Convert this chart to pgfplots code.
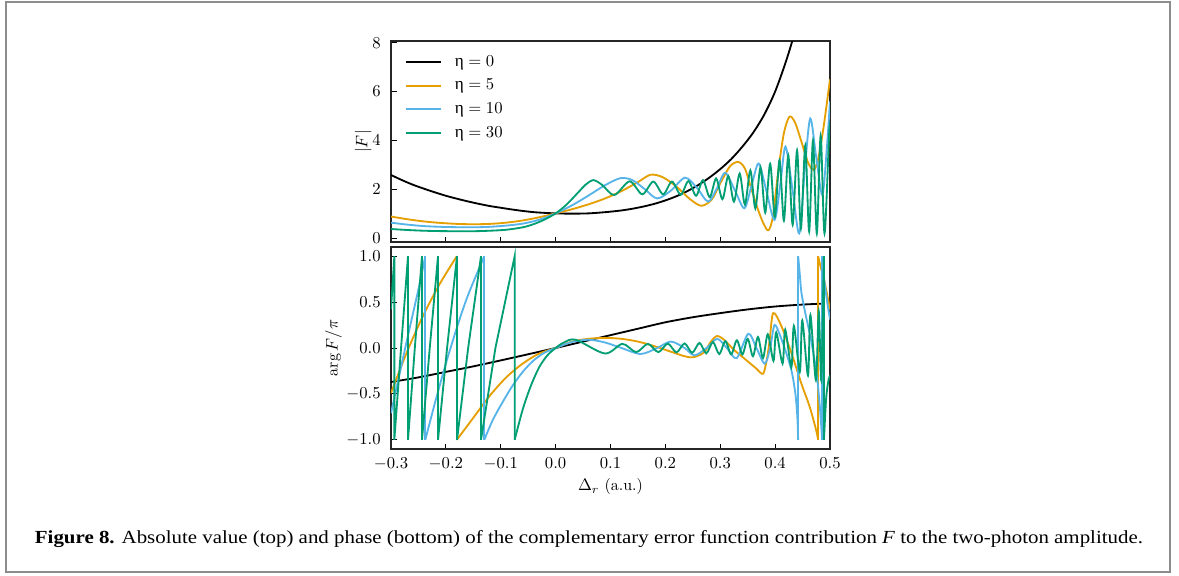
\documentclass[border=0pt]{standalone}
\usepackage{pgfplots}
\pgfplotsset{compat=1.18}
\usepackage{fontspec}
\newfontfamily\capfont{Liberation Serif}
\newfontfamily\grk{Liberation Serif}
\definecolor{myorange}{HTML}{E69F00}
\definecolor{myblue}{HTML}{56B4E9}
\definecolor{mygreen}{HTML}{009E73}
\definecolor{framegray}{HTML}{8C8C8C}
\newcommand{\tkfont}{\fontsize{9.6}{11}\selectfont}
\newcommand{\lgfont}{\fontsize{10.3}{12}\selectfont}
\pgfplotsset{
  myax/.style={
    scale only axis, width=263.4pt,
    xmin=-0.3, xmax=0.5,
    axis line style={line width=0.7pt, black!85},
    tick style={line width=0.6pt, black},
    tick align=inside, major tick length=3.3pt,
    tick pos=left,
    scaled ticks=false,
    xtick={-0.3,-0.2,-0.1,0,0.1,0.2,0.3,0.4,0.5},
    ticklabel style={font=\tkfont},
    label style={font=\tkfont},
    yticklabel style={xshift=-2.7pt},
    xticklabel style={yshift=-2.0pt},
    every axis plot/.append style={line width=1.1pt},
  }
}
\begin{document}
\begin{tikzpicture}
\useasboundingbox (0pt,0pt) rectangle (707.4pt,-345.6pt);
\fill[white] (0pt,0pt) rectangle (707.4pt,-345.6pt);
\begin{scope}[x=0.6pt,y=-0.6pt]
\draw[framegray, line width=1.2pt] (6,1.5) rectangle (1170,572);
\node[inner sep=0pt, anchor=base] at (589,543) {\resizebox{664.8pt}{7.8pt}{\capfont\textbf{Figure 8.} Absolute value (top) and phase (bottom) of the complementary error function contribution \textit{F} to the two-photon amplitude.}};
\end{scope}

% ---------------- top panel ----------------
\begin{axis}[myax,
  at={(234.6pt,-145.2pt)}, anchor=south west,
  height=120.6pt,
  ymin=-0.151, ymax=8.07,
  ytick={0,2,4,6,8},
  xticklabels={},
  ylabel={$|F|$},
  ylabel shift=-6.4pt,
  legend style={at={(0.0319,0.935)}, anchor=north west, draw=none, fill=none,
    font=\lgfont, row sep=5.2pt, inner sep=0pt,
    nodes={inner sep=0pt, text height=7pt, text depth=2pt},
    /tikz/every odd column/.append style={column sep=7.4pt}},
  legend cell align=left,
  legend image code/.code={\draw[#1] (0pt,0pt) -- (21pt,0pt);},
]
\addlegendimage{black, line width=1.25pt}
\addlegendentry{{\grk η}${}=0$}
\addlegendimage{myorange, line width=1.25pt}
\addlegendentry{{\grk η}${}=5$}
\addlegendimage{myblue, line width=1.25pt}
\addlegendentry{{\grk η}${}=10$}
\addlegendimage{mygreen, line width=1.25pt}
\addlegendentry{{\grk η}${}=30$}
\addplot[black, smooth, forget plot] coordinates {
(-0.30,2.59) (-0.28,2.38) (-0.26,2.19) (-0.24,2.03) (-0.22,1.88) (-0.20,1.74) (-0.18,1.62) (-0.16,1.51) (-0.14,1.41) (-0.12,1.32) (-0.10,1.25) (-0.08,1.18) (-0.06,1.12) (-0.04,1.07) (-0.02,1.04) (0.00,1.02) (0.02,1.01) (0.04,1.01) (0.06,1.02) (0.08,1.05) (0.10,1.09) (0.12,1.14) (0.14,1.21) (0.16,1.30) (0.18,1.41) (0.20,1.55) (0.22,1.72) (0.24,1.93) (0.26,2.18) (0.28,2.48) (0.30,2.83) (0.32,3.24) (0.34,3.74) (0.36,4.32) (0.38,5.05) (0.40,6.0) (0.42,7.25) (0.437,8.5)};
\addplot[myorange, smooth, forget plot] coordinates {
(-0.30,0.89) (-0.27,0.78) (-0.24,0.69) (-0.21,0.63) (-0.18,0.59) (-0.15,0.575) (-0.12,0.59) (-0.09,0.64) (-0.06,0.73) (-0.03,0.86) (0.00,1.02) (0.03,1.19) (0.06,1.39) (0.09,1.63) (0.12,1.93) (0.15,2.3) (0.173,2.6) (0.195,2.5) (0.22,2.12) (0.245,1.6) (0.266,1.33) (0.285,1.6) (0.30,2.25) (0.318,2.95) (0.333,3.12) (0.345,2.85) (0.357,2.0) (0.37,1.1) (0.38,0.55) (0.388,0.33) (0.396,0.9) (0.406,2.8) (0.416,4.3) (0.426,4.97) (0.436,4.75) (0.448,3.95) (0.46,3.1) (0.47,2.8) (0.478,3.2) (0.488,4.5) (0.5,6.5)};
\addplot[myblue, smooth, forget plot] coordinates {
(-0.30,0.64) (-0.27,0.56) (-0.24,0.5) (-0.21,0.47) (-0.18,0.455) (-0.15,0.45) (-0.12,0.47) (-0.09,0.52) (-0.06,0.6) (-0.03,0.76) (0.00,1.02) (0.03,1.35) (0.06,1.75) (0.09,2.17) (0.118,2.46) (0.14,2.38) (0.163,2.0) (0.185,1.63) (0.21,1.95) (0.236,2.48) (0.258,2.05) (0.278,1.5) (0.294,2.05) (0.309,2.68) (0.327,1.95) (0.344,1.23) (0.357,2.15) (0.37,3.06) (0.384,1.95) (0.399,0.75) (0.41,2.3) (0.419,3.75) (0.432,1.95) (0.444,0.2) (0.454,2.8) (0.464,4.9) (0.475,3.3) (0.486,1.77) (0.494,3.6) (0.5,5.6)};
\addplot[mygreen, smooth, forget plot] coordinates {
(-0.30,0.38) (-0.27,0.34) (-0.24,0.31) (-0.21,0.295) (-0.18,0.29) (-0.15,0.29) (-0.12,0.31) (-0.09,0.35) (-0.06,0.45) (-0.04,0.58) (-0.02,0.77) (0.00,1.02) (0.02,1.38) (0.04,1.85) (0.055,2.2) (0.069,2.38) (0.085,2.18) (0.107,1.77)
(0.135,2.33) (0.158,1.80) (0.178,2.32) (0.196,1.80) (0.212,2.32) (0.228,1.78) (0.242,2.34) (0.256,1.74) (0.2685,2.38) (0.281,1.68) (0.2925,2.45) (0.304,1.60) (0.3147,2.55) (0.325,1.50) (0.3354,2.65) (0.345,1.38) (0.3549,2.78) (0.364,1.22) (0.3734,2.90) (0.382,1.05) (0.391,3.05) (0.3995,0.88) (0.408,3.20) (0.416,0.72) (0.424,3.40) (0.432,0.55) (0.440,3.60) (0.447,0.40) (0.455,3.80) (0.462,0.28) (0.469,4.00) (0.476,0.20) (0.483,4.20) (0.490,0.20) (0.4985,4.3) (0.5,4.5)};
\end{axis}

% ---------------- bottom panel ----------------
\begin{axis}[myax,
  at={(234.6pt,-148.2pt)}, anchor=north west,
  height=121.2pt,
  ymin=-1.1, ymax=1.1,
  ytick={-1,-0.5,0,0.5,1},
  /pgf/number format/fixed, /pgf/number format/fixed zerofill, /pgf/number format/precision=1,
  xlabel={$\Delta_r$ (a.u.)},
  xlabel shift=-1.8pt,
  ylabel={$\arg F/\pi$},
  ylabel shift=-4.2pt,
]
% black
\addplot[black, smooth] coordinates {
(-0.30,-0.37) (-0.25,-0.32) (-0.20,-0.26) (-0.15,-0.20) (-0.10,-0.135) (-0.05,-0.068) (0,0) (0.05,0.07) (0.10,0.14) (0.15,0.21) (0.20,0.28) (0.25,0.335) (0.30,0.38) (0.35,0.42) (0.40,0.452) (0.45,0.473) (0.49,0.484)};
% orange
\addplot[myorange, smooth] coordinates {(-0.30,-0.49) (-0.27,-0.03) (-0.24,0.37) (-0.21,0.71) (-0.18,1.0)};
\addplot[myorange] coordinates {(-0.18,1.0) (-0.18,-1.0)};
\addplot[myorange, smooth] coordinates {
(-0.18,-1.0) (-0.15,-0.76) (-0.12,-0.52) (-0.09,-0.32) (-0.06,-0.17) (-0.03,-0.06) (0,0) (0.03,0.07) (0.06,0.1) (0.09,0.11) (0.12,0.1) (0.15,0.07) (0.18,0.02) (0.21,-0.04) (0.235,-0.09) (0.251,-0.1) (0.27,-0.05) (0.283,0.07) (0.294,0.13) (0.307,0.09) (0.325,-0.02) (0.345,-0.12) (0.365,-0.22) (0.378,-0.28) (0.385,-0.12) (0.39,0.08) (0.3965,0.38) (0.4117,0.235) (0.43,-0.06) (0.448,-0.39) (0.463,-0.64) (0.475,-0.9) (0.4783,-1.0)};
\addplot[myorange] coordinates {(0.4783,-1.0) (0.4783,1.0)};
\addplot[myorange, smooth] coordinates {(0.4783,1.0) (0.484,0.86) (0.4905,0.71) (0.5,0.42)};
% blue
\addplot[myblue, smooth] coordinates {(-0.30,-0.71) (-0.27,0.11) (-0.25,0.64) (-0.2375,1.0)};
\addplot[myblue] coordinates {(-0.2375,1.0) (-0.2375,-1.0)};
\addplot[myblue, smooth] coordinates {(-0.2375,-1.0) (-0.22,-0.6) (-0.2,-0.17) (-0.18,0.22) (-0.16,0.57) (-0.13,1.0)};
\addplot[myblue] coordinates {(-0.13,1.0) (-0.13,-1.0)};
\addplot[myblue, smooth] coordinates {
(-0.13,-1.0) (-0.115,-0.79) (-0.1,-0.625) (-0.08,-0.425) (-0.06,-0.26) (-0.04,-0.135) (-0.02,-0.05) (0,0) (0.03,0.065) (0.06,0.09) (0.09,0.06) (0.12,0.0) (0.155,-0.065) (0.185,0.0) (0.21,0.07) (0.235,0.0) (0.253,-0.08) (0.275,0.0) (0.2945,0.1) (0.312,0.0) (0.33,-0.11) (0.351,0.155) (0.366,0.0) (0.381,-0.17) (0.391,0.0) (0.399,0.25) (0.41,0.12) (0.42,-0.05) (0.43,-0.25) (0.437,-0.5) (0.4405,-0.75) (0.442,-1.0)};
\addplot[myblue] coordinates {(0.442,-1.0) (0.442,1.0)};
\addplot[myblue, smooth] coordinates {(0.442,1.0) (0.445,0.8) (0.448,0.6) (0.455,0.38) (0.465,0.1) (0.475,-0.25) (0.481,-0.6) (0.4857,-1.0)};
\addplot[myblue] coordinates {(0.4857,-1.0) (0.4857,1.0)};
\addplot[myblue, smooth] coordinates {(0.4857,1.0) (0.49,0.72) (0.495,0.5) (0.5,0.31)};
% green
\addplot[mygreen] coordinates {
(-0.30,0.42) (-0.2939,1.0) (-0.2939,-1.0) (-0.2817,0.0) (-0.269,1.0) (-0.269,-1.0) (-0.2566,0.0) (-0.2435,1.0) (-0.2435,-1.0) (-0.2294,0.0) (-0.2143,1.0) (-0.2143,-1.0) (-0.1978,0.0) (-0.1797,1.0) (-0.1797,-1.0) (-0.1594,0.0) (-0.136,1.0) (-0.136,-1.0) (-0.1097,0.0) (-0.0746,1.0) (-0.0746,-1.0)};
\addplot[mygreen, smooth] coordinates {
(-0.0746,-1.0) (-0.06,-0.67) (-0.045,-0.41) (-0.03,-0.21) (-0.015,-0.08) (0,0) (0.015,0.06) (0.0367,0.09) (0.0899,-0.06) (0.1217,0.045) (0.1468,-0.045) (0.1682,0.045) (0.1872,-0.045) (0.2044,0.048) (0.2202,-0.048) (0.2350,0.05) (0.2489,-0.052) (0.2621,0.055) (0.2747,-0.058) (0.2867,0.065) (0.2982,-0.066) (0.3093,0.075) (0.3200,-0.07) (0.3303,0.085) (0.3404,-0.07) (0.3501,0.1) (0.3596,-0.09) (0.3688,0.12) (0.3779,-0.11) (0.3867,0.15) (0.397,-0.14) (0.402,0.17) (0.4136,-0.17) (0.4184,0.2) (0.4296,-0.21) (0.4342,0.24) (0.445,-0.26) (0.4495,0.3) (0.4599,-0.3) (0.4643,0.36) (0.4743,-0.35) (0.4795,0.4) (0.484,-0.35) (0.4875,0.6) (0.489,1.0)};
\addplot[mygreen] coordinates {(0.489,1.0) (0.489,-1.0)};
\addplot[mygreen, smooth] coordinates {(0.489,-1.0) (0.493,-0.55) (0.497,-0.36) (0.5,-0.3)};
\end{axis}
\end{tikzpicture}
\end{document}
